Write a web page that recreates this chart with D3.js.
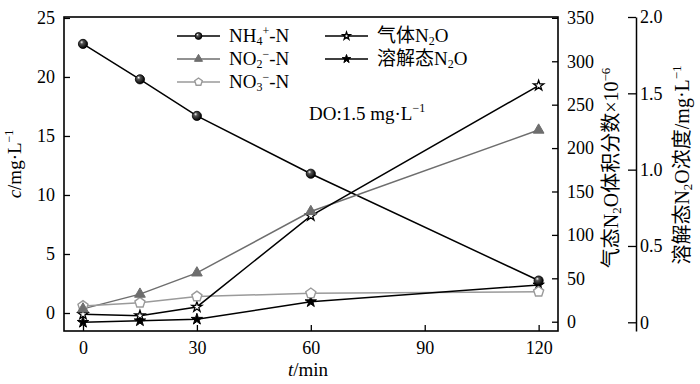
<!DOCTYPE html>
<html><head><meta charset="utf-8">
<script src="https://cdn.jsdelivr.net/npm/d3@7"></script>
<style>
body{margin:0;background:#fff;}
svg{display:block;font-family:"Liberation Serif","Noto Sans CJK SC",serif;}
</style></head>
<body><svg id="c" width="700" height="384"></svg>
<script>
const times = [0, 15, 30, 60, 120];
const nh4 = [22.8, 19.8, 16.7, 11.8, 2.75];
const no2 = [0.35, 1.6, 3.4, 8.6, 15.5];
const no3 = [0.6, 0.87, 1.4, 1.67, 1.8];
const gasN2O = [8.5, 7, 17, 122, 272];
const dissN2O = [0.0, 0.01, 0.02, 0.135, 0.245];
const xTicks = [0, 30, 60, 90, 120];
const yLeftTicks = [0, 5, 10, 15, 20, 25];
const yRightTicks = [0, 50, 100, 150, 200, 250, 300, 350];
const y3Ticks = [0, 0.5, 1.0, 1.5, 2.0];

const svg = d3.select("#c");
const L = 64, R = 558, T = 17, B = 331;
const x = d3.scaleLinear().domain([-5, 125.1]).range([L, R]);
const yL = d3.scaleLinear().domain([-1.525, 25.08]).range([B, T]);
const yR = d3.scaleLinear().domain([-10.7, 351]).range([B, T]);
const y3 = d3.scaleLinear().domain([-0.057, 2.0]).range([B, T]);

const defs = svg.append("defs");
const g = defs.append("radialGradient").attr("id", "ball").attr("cx", "40%").attr("cy", "40%").attr("r", "60%").attr("fx","35%").attr("fy","30%");
g.append("stop").attr("offset", "0%").attr("stop-color", "#fff");
g.append("stop").attr("offset", "30%").attr("stop-color", "#555");
g.append("stop").attr("offset", "100%").attr("stop-color", "#000");

const fs = 18;
function styleAxis(sel) {
  sel.selectAll("text").attr("font-size", fs).attr("fill", "#000").attr("font-family", "Liberation Serif");
  sel.selectAll("line").attr("stroke", "#000").attr("stroke-width", 1.3);
  sel.selectAll("path").attr("stroke", "#000").attr("stroke-width", 1.5);
}

svg.append("g").attr("transform", `translate(0,${B})`)
  .call(d3.axisBottom(x).tickValues(xTicks).tickSize(-6).tickSizeOuter(0).tickPadding(10))
  .call(styleAxis).call(s => s.select(".domain").remove());
svg.append("g").attr("transform", `translate(${L},0)`)
  .call(d3.axisLeft(yL).tickValues(yLeftTicks).tickSize(-6).tickSizeOuter(0).tickPadding(9))
  .call(styleAxis).call(s => s.select(".domain").remove());
svg.append("g").attr("transform", `translate(${R},0)`)
  .call(d3.axisRight(yR).tickValues(yRightTicks).tickSize(-6).tickSizeOuter(0).tickPadding(9))
  .call(styleAxis).call(s => s.select(".domain").remove());
svg.append("g").attr("transform", `translate(636,0)`)
  .call(d3.axisRight(y3).tickValues(y3Ticks).tickSize(-8).tickSizeOuter(0).tickPadding(4)
    .tickFormat(d => d === 0 ? "0" : d3.format(".1f")(d)))
  .call(styleAxis);

svg.append("rect").attr("x", L).attr("y", T).attr("width", R - L).attr("height", B - T)
  .attr("fill", "none").attr("stroke", "#000").attr("stroke-width", 1.6);

const series = [
  {vals: nh4, y: yL, color: "#000", marker: "ball"},
  {vals: no2, y: yL, color: "#6e6e6e", marker: "tri"},
  {vals: no3, y: yL, color: "#9a9a9a", marker: "pent"},
  {vals: gasN2O, y: yR, color: "#000", marker: "ostar"},
  {vals: dissN2O, y: y3, color: "#000", marker: "fstar"}
];
const line = (ys) => d3.line().x((d, i) => x(times[i])).y(d => ys(d));

function drawMarker(sel, type, cx, cy, s) {
  s = s || 1;
  if (type === "ball") {
    sel.append("circle").attr("cx", cx).attr("cy", cy).attr("r", 4.6 * s).attr("fill", "url(#ball)").attr("stroke", "#000").attr("stroke-width", 0.8);
  } else if (type === "tri") {
    sel.append("path").attr("d", d3.symbol(d3.symbolTriangle, 50 * s * s)()).attr("transform", `translate(${cx},${cy})`)
      .attr("fill", "#6e6e6e").attr("stroke", "#6e6e6e").attr("stroke-width", 1);
  } else if (type === "pent") {
    const r = 5.3 * s;
    const pts = d3.range(5).map(k => { const a = -Math.PI / 2 + k * 2 * Math.PI / 5; return [cx + r * Math.cos(a), cy + r * Math.sin(a)]; });
    sel.append("polygon").attr("points", pts.map(p => p.join(",")).join(" ")).attr("fill", "#fff").attr("stroke", "#9a9a9a").attr("stroke-width", 1.4);
  } else if (type === "ostar") {
    sel.append("path").attr("d", d3.symbol(d3.symbolStar, 32 * s * s)()).attr("transform", `translate(${cx},${cy})`)
      .attr("fill", "#fff").attr("stroke", "#000").attr("stroke-width", 1.3);
  } else if (type === "fstar") {
    sel.append("path").attr("d", d3.symbol(d3.symbolStar, 40 * s * s)()).attr("transform", `translate(${cx},${cy})`)
      .attr("fill", "#000").attr("stroke", "#000").attr("stroke-width", 1);
  }
}

series.forEach(sr => {
  svg.append("path").datum(sr.vals).attr("d", line(sr.y)).attr("fill", "none").attr("stroke", sr.color).attr("stroke-width", 1.5);
});
[4, 3, 2, 1, 0].forEach(k => {
  const sr = series[k];
  const gm = svg.append("g");
  sr.vals.forEach((v, i) => drawMarker(gm, sr.marker, x(times[i]), sr.y(v)));
});

const legend = [
  {col: 0, row: 0, color: "#000", marker: "ball", parts: [["NH", 0], ["4", 1], ["+", -1], ["-N", 0]]},
  {col: 0, row: 1, color: "#6e6e6e", marker: "tri", parts: [["NO", 0], ["2", 1], ["−", -1], ["-N", 0]]},
  {col: 0, row: 2, color: "#9a9a9a", marker: "pent", parts: [["NO", 0], ["3", 1], ["−", -1], ["-N", 0]]},
  {col: 1, row: 0, color: "#000", marker: "ostar", parts: [["气体N", 0], ["2", 1], ["O", 0]]},
  {col: 1, row: 1, color: "#000", marker: "fstar", parts: [["溶解态N", 0], ["2", 1], ["O", 0]]}
];
const colX = [177, 325], rowY = [36, 59, 82];
const lg = svg.append("g");
legend.forEach(d => {
  const x0 = colX[d.col], yc = rowY[d.row];
  lg.append("line").attr("x1", x0).attr("x2", x0 + 43).attr("y1", yc).attr("y2", yc).attr("stroke", d.color).attr("stroke-width", 1.5);
  drawMarker(lg, d.marker, x0 + 21.5, yc, 0.75);
  const t = lg.append("text").attr("x", x0 + 52).attr("y", yc + 6).attr("font-size", 19).attr("fill", "#000");
  let acc = 0;
  d.parts.forEach(p => {
    const ts = t.append("tspan").text(p[0]);
    const target = p[1] === 1 ? 3 : (p[1] === -1 ? -7 : 0);
    if (p[1] !== 0) ts.attr("font-size", 12);
    ts.attr("dy", target - acc);
    acc = target;
  });
});

const dt = svg.append("text").attr("x", 309).attr("y", 120).attr("font-size", 19).attr("fill", "#000");
dt.append("tspan").text("DO:1.5 mg·L");
dt.append("tspan").text("−1").attr("font-size", 12).attr("dy", -8);

const xt = svg.append("text").attr("x", 308).attr("y", 376).attr("text-anchor", "middle").attr("font-size", 19);
xt.append("tspan").text("t").attr("font-style", "italic");
xt.append("tspan").text("/min");

const yt = svg.append("text").attr("transform", "translate(21,164) rotate(-90)").attr("text-anchor", "middle").attr("font-size", 19);
yt.append("tspan").text("c").attr("font-style", "italic");
yt.append("tspan").text("/mg·L");
yt.append("tspan").text("−1").attr("font-size", 12).attr("dy", -8);

const rt = svg.append("text").attr("transform", "translate(618,168) rotate(-90)").attr("text-anchor", "middle").attr("font-size", 20);
rt.append("tspan").text("气态N");
rt.append("tspan").text("2").attr("font-size", 13).attr("dy", 3);
rt.append("tspan").text("O体积分数×10").attr("dy", -3);
rt.append("tspan").text("−6").attr("font-size", 13).attr("dy", -8);

const r3 = svg.append("text").attr("transform", "translate(689,165) rotate(-90)").attr("text-anchor", "middle").attr("font-size", 20);
r3.append("tspan").text("溶解态N");
r3.append("tspan").text("2").attr("font-size", 13).attr("dy", 3);
r3.append("tspan").text("O浓度/mg·L").attr("dy", -3);
r3.append("tspan").text("−1").attr("font-size", 13).attr("dy", -8);
</script>
</body></html>
